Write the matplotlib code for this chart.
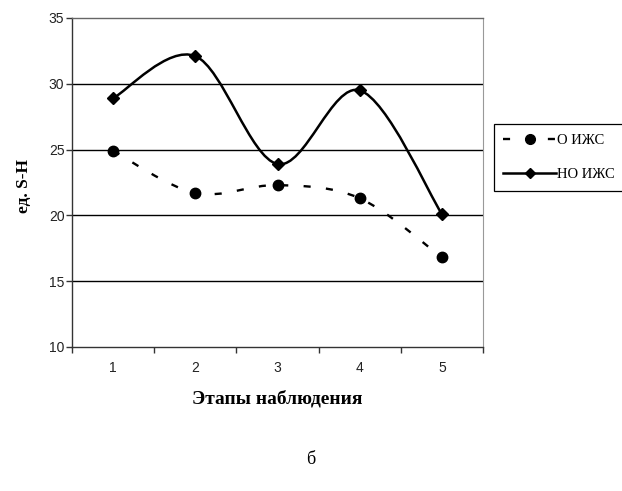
import numpy as np
import matplotlib.pyplot as plt
from matplotlib.path import Path
from matplotlib.patches import PathPatch
from matplotlib.lines import Line2D

# данные графика
stages = [1, 2, 3, 4, 5]
stage_labels = ['1', '2', '3', '4', '5']
o_izhs = [24.9, 21.7, 22.3, 21.3, 16.8]
no_izhs = [28.9, 32.1, 23.9, 29.5, 20.1]


def smooth_path(x, y):
    # сглаженная линия как в Excel (кривые Безье через точки)
    pts = np.column_stack([x, y]).astype(float)
    ext = np.vstack([pts[0], pts, pts[-1]])
    verts = [pts[0]]
    codes = [Path.MOVETO]
    for i in range(len(pts) - 1):
        p0, p1, p2, p3 = ext[i], ext[i + 1], ext[i + 2], ext[i + 3]
        c1 = p1 + (p2 - p0) / 6.0
        c2 = p2 - (p3 - p1) / 6.0
        verts += [c1, c2, p2]
        codes += [Path.CURVE4] * 3
    return Path(verts, codes)


plt.rcParams['font.family'] = ['Liberation Sans', 'DejaVu Sans']

fig = plt.figure(figsize=(6.22, 4.91), dpi=100)
ax = fig.add_axes([0.1158, 0.2933, 0.6608, 0.6701])

ax.set_xlim(0.5, 5.5)
ax.set_ylim(10, 35)

# сетка
for v in [15, 20, 25, 30]:
    ax.axhline(v, color='black', lw=1.0, zorder=1)

# О ИЖС — пунктир с кругами
ax.add_patch(PathPatch(smooth_path(stages, o_izhs), fill=False, edgecolor='black',
                       lw=1.7, linestyle=(0, (3, 6.5)), zorder=2))
ax.plot(stages, o_izhs, linestyle='none', marker='o', ms=7.5, color='black', zorder=3)

# НО ИЖС — сплошная с ромбами
ax.add_patch(PathPatch(smooth_path(stages, no_izhs), fill=False, edgecolor='black',
                       lw=1.8, zorder=2))
ax.plot(stages, no_izhs, linestyle='none', marker='D', ms=6.5, color='black', zorder=3)

# оси
ax.set_yticks([10, 15, 20, 25, 30, 35])
ax.set_xticks(stages)
ax.set_xticklabels(stage_labels)
ax.set_xticks(np.arange(0.5, 6.0, 1.0), minor=True)
ax.tick_params(axis='x', which='major', length=0, pad=10, labelsize=10, colors='#222222')
ax.tick_params(axis='x', which='minor', length=4, width=1.0, direction='out', color='#333333')
ax.tick_params(axis='y', length=4, width=1.0, direction='out', labelsize=10, pad=1.5,
               color='#333333', labelcolor='#222222')

ax.spines['left'].set_color('#333333')
ax.spines['bottom'].set_color('#333333')
ax.spines['left'].set_linewidth(1.0)
ax.spines['bottom'].set_linewidth(1.0)
ax.spines['top'].set_color('#666666')
ax.spines['right'].set_color('#999999')
ax.spines['top'].set_linewidth(1.0)
ax.spines['right'].set_linewidth(0.8)

ax.set_xlabel('Этапы наблюдения', family='Liberation Serif', fontweight='bold',
              fontsize=14, labelpad=11)
ax.set_ylabel('ед. S-H', family='Liberation Serif', fontweight='bold', fontsize=12.5)
ax.yaxis.set_label_coords(-0.097, 0.49)

# легенда
handles = [
    Line2D([], [], color='black', lw=1.7, linestyle=(0, (3, 6.5)), marker='o', ms=7),
    Line2D([], [], color='black', lw=1.8, marker='D', ms=5.5),
]
leg = fig.legend(handles, ['О ИЖС', 'НО ИЖС'], loc='upper left',
                 bbox_to_anchor=(494 / 622, 1 - 124 / 491), bbox_transform=fig.transFigure,
                 prop={'family': 'Liberation Serif', 'size': 10.5}, handlelength=3.6,
                 handletextpad=0.1, borderpad=0.65, labelspacing=1.45, borderaxespad=0,
                 fancybox=False, framealpha=1)
leg.get_frame().set_edgecolor('black')
leg.get_frame().set_linewidth(0.9)

fig.text(311 / 622, 1 - 459 / 491, 'б', family='Liberation Serif', fontsize=13,
         ha='center', va='center')

fig.savefig('out.png', dpi=100)
